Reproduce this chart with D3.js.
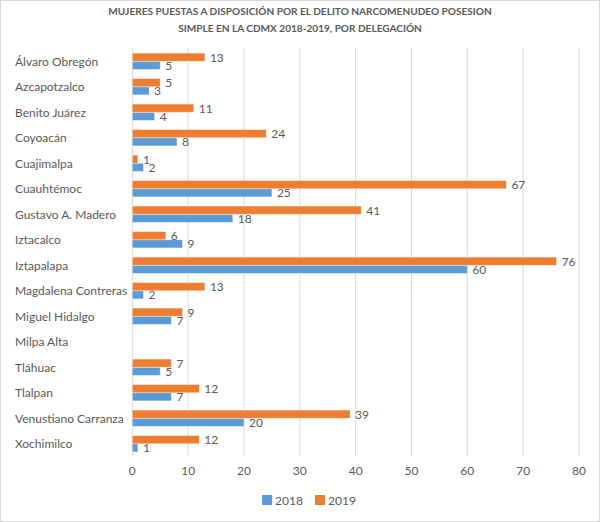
<!DOCTYPE html>
<html><head><meta charset="utf-8">
<script src="https://cdn.jsdelivr.net/npm/d3@7"></script>
<style>body{margin:0;background:#fff}svg{display:block}text{font-family:Lato,"Open Sans",sans-serif}</style>
</head><body>
<svg id="c" width="600" height="522"></svg>
<script>
const categories = ["Álvaro Obregón","Azcapotzalco","Benito Juárez","Coyoacán","Cuajimalpa","Cuauhtémoc","Gustavo A. Madero","Iztacalco","Iztapalapa","Magdalena Contreras","Miguel Hidalgo","Milpa Alta","Tláhuac","Tlalpan","Venustiano Carranza","Xochimilco"];
const values2018 = [5,3,4,8,2,25,18,9,60,2,7,null,5,7,20,1];
const values2019 = [13,5,11,24,1,67,41,6,76,13,9,null,7,12,39,12];
const seriesNames = ["2018","2019"];
const xTicks = [0,10,20,30,40,50,60,70,80];
const titleLines = ["MUJERES PUESTAS A DISPOSICIÓN POR EL DELITO NARCOMENUDEO POSESION","SIMPLE EN LA CDMX 2018-2019, POR DELEGACIÓN"];

const colors = {"2018":"#5B9BD5","2019":"#ED7D31"};
const textColor = "#595959";
const svg = d3.select("#c");
svg.append("rect").attr("x",0.5).attr("y",0.5).attr("width",599).attr("height",521).attr("fill","#fff").attr("stroke","#d9d9d9");

const x = d3.scaleLinear().domain([0,80]).range([132.3,579]);
const y = d3.scaleBand().domain(categories).range([48,456]).paddingInner(0.36).paddingOuter(0.18);

// title: font size fitted so line 1 spans about the reference width
const t0 = svg.append("text").attr("font-weight","bold").attr("font-size",13).text(titleLines[0]);
const fs = Math.min(13.5, 13 * 384 / t0.node().getComputedTextLength());
t0.remove();
titleLines.forEach((t,i)=>{
  svg.append("text").attr("x",300).attr("y",15+i*16.5).attr("text-anchor","middle")
    .attr("font-weight","bold").attr("font-size",fs).attr("fill",textColor).text(t);
});

// grid
svg.append("g").selectAll("line").data(xTicks).join("line")
  .attr("x1",d=>x(d)).attr("x2",d=>x(d)).attr("y1",48).attr("y2",456)
  .attr("stroke","#d9d9d9").attr("stroke-width",1);

// x tick labels
svg.append("g").selectAll("text").data(xTicks).join("text")
  .attr("x",d=>x(d)).attr("y",475).attr("text-anchor","middle").attr("font-size",12).attr("fill",textColor).text(d=>d);

// category labels
svg.append("g").selectAll("text").data(categories).join("text")
  .attr("x",15).attr("y",d=>y(d)+y.bandwidth()/2+5).attr("font-size",12).attr("fill",textColor).text(d=>d);

const inner = d3.scaleBand().domain(["2019","2018"]).range([0,y.bandwidth()]);
const series = [["2018",values2018],["2019",values2019]];
series.forEach(([name,vals])=>{
  const g = svg.append("g");
  const rows = categories.map((c,i)=>({c,v:vals[i]})).filter(d=>d.v!=null);
  g.selectAll("rect").data(rows).join("rect")
    .attr("x",x(0)).attr("y",d=>y(d.c)+inner(name)+0.5).attr("width",d=>x(d.v)-x(0)).attr("height",inner.bandwidth())
    .attr("fill",colors[name]).attr("stroke","#fff").attr("stroke-opacity",0.5).attr("stroke-width",0.75);
  g.selectAll("text").data(rows).join("text")
    .attr("x",d=>x(d.v)+5).attr("y",d=>y(d.c)+inner(name)+inner.bandwidth()/2+5)
    .attr("font-size",12).attr("fill",textColor).text(d=>d.v);
});

// legend
const lg = svg.append("g");
[["2018",262],["2019",315]].forEach(([n,lx])=>{
  lg.append("rect").attr("x",lx).attr("y",495).attr("width",10).attr("height",10).attr("fill",colors[n]);
  lg.append("text").attr("x",lx+13).attr("y",504.5).attr("font-size",12).attr("fill",textColor).text(n);
});
</script>
</body></html>
